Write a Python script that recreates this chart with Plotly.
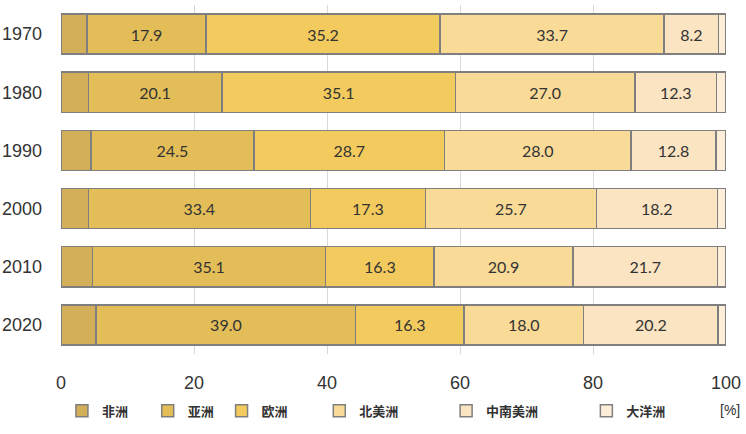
import plotly.graph_objects as go

years = ["1970", "1980", "1990", "2000", "2010", "2020"]
regions = ["非洲", "亚洲", "欧洲", "北美洲", "中南美洲", "大洋洲"]

africa = [3.9, 4.1, 4.5, 4.1, 4.7, 5.3]
asia = [17.9, 20.1, 24.5, 33.4, 35.1, 39.0]
europe = [35.2, 35.1, 28.7, 17.3, 16.3, 16.3]
n_america = [33.7, 27.0, 28.0, 25.7, 20.9, 18.0]
latin_america = [8.2, 12.3, 12.8, 18.2, 21.7, 20.2]
oceania = [1.1, 1.4, 1.5, 1.3, 1.3, 1.2]

x_ticks = [0, 20, 40, 60, 80, 100]

series = [africa, asia, europe, n_america, latin_america, oceania]
colors = ["#D4AF5A", "#E3BE58", "#F2CA5D", "#F9DA97", "#FBE4C2", "#FDEEDA"]
show_text = [False, True, True, True, True, False]
# each legend entry gets its own little legend so spacing matches the original
legend_x = [0.083, 0.198, 0.297, 0.428, 0.598, 0.786]

fig = go.Figure()
for i, (name, vals, col, lab) in enumerate(zip(regions, series, colors, show_text)):
    lg = "legend%d" % (i + 2)
    fig.add_trace(go.Bar(
        y=years, x=vals, name=name, orientation="h", legend=lg,
        showlegend=True,
        marker=dict(color=col, line=dict(color="#7F7F7F", width=1.5)),
        texttemplate="%{x:.1f}" if lab else None,
        textposition="inside" if lab else "none",
        insidetextanchor="middle",
        textfont=dict(family="Lato, Liberation Sans", size=16, color="#333333"),
        hoverinfo="x+name",
    ))
    fig.update_layout({lg: dict(
        orientation="h", xref="container", x=legend_x[i], y=-0.12,
        xanchor="left", yanchor="top",
        font=dict(family="Noto Sans CJK SC", size=13, color="#333333", weight="bold"),
        itemwidth=30, bgcolor="rgba(0,0,0,0)", visible=True,
    )})

fig.update_layout(
    barmode="stack",
    bargap=0.31,
    showlegend=True,
    width=746, height=434,
    margin=dict(l=61, r=20, t=5, b=80, autoexpand=False),
    paper_bgcolor="white", plot_bgcolor="white",
    font=dict(family="Liberation Sans, Arial", color="#333333"),
    uniformtext=dict(mode="show", minsize=10),
    annotations=[dict(
        text="[%]", xref="paper", yref="paper", x=1.024, y=-0.132,
        xanchor="right", yanchor="top", showarrow=False,
        font=dict(family="Liberation Sans", size=14, color="#333333"),
    )],
)

fig.update_xaxes(
    range=[0, 100], tickvals=x_ticks, automargin=False,
    showgrid=True, gridcolor="#D9D9D9", gridwidth=1,
    zeroline=False, showline=False,
    tickfont=dict(size=18, color="#333333"),
    ticklabelstandoff=16,
)
fig.update_yaxes(
    autorange="reversed", automargin=False,
    showgrid=False, showline=False,
    tickfont=dict(size=18, color="#333333"),
    ticklabelstandoff=18,
)

# drop the default 8px page margin so the figure sits at the window corner
fig.write_html("out.html", config={"displayModeBar": False},
               post_script="document.body.style.margin='0';")
